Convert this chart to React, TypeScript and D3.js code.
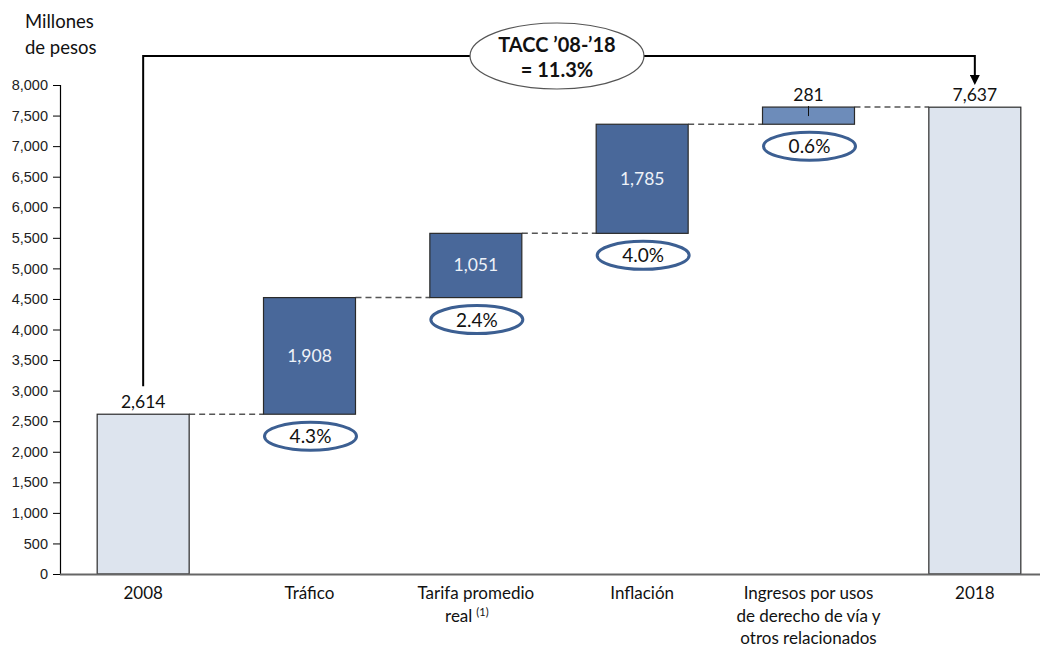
import { useEffect, useRef } from "react";
import * as d3 from "d3";

const W = 1044;
const H = 648;

const categories = ["2008", "Tráfico", "Tarifa promedio real", "Inflación", "Ingresos por usos de derecho de vía y otros relacionados", "2018"];
const labelLines = [["2008"], ["Tráfico"], ["Tarifa promedio", "real"], ["Inflación"], ["Ingresos por usos", "de derecho de vía y", "otros relacionados"], ["2018"]];
const kinds = ["total", "delta", "delta", "delta", "delta", "total"];
const values = [2614, 1908, 1051, 1785, 281, 7637];
const growth = ["", "4.3%", "2.4%", "4.0%", "0.6%", ""];
const yTicks = [0, 500, 1000, 1500, 2000, 2500, 3000, 3500, 4000, 4500, 5000, 5500, 6000, 6500, 7000, 7500, 8000];
const tacc = ["TACC ’08-’18", "= 11.3%"];

const FONT = "Lato, 'Open Sans', sans-serif";

export default function App() {
  const ref = useRef<SVGSVGElement>(null);

  useEffect(() => {
    if (!ref.current) return;
    const root = d3.select(ref.current);
    root.selectAll("*").remove();

    const x = d3.scaleBand<string>().domain(categories).range([60, 1058]).paddingInner(0.447).paddingOuter(0.2235);
    const y = d3.scaleLinear().domain([0, 8000]).range([574, 85]);

    // waterfall bounds
    let running = 0;
    const bars = categories.map((c, i) => {
      let lo: number, hi: number;
      if (kinds[i] === "total") {
        lo = 0;
        hi = values[i];
        running = values[i];
      } else {
        lo = running;
        hi = running + values[i];
        running = hi;
      }
      return { c, i, lo, hi };
    });

    const defs = root.append("defs");
    defs
      .append("marker")
      .attr("id", "arr")
      .attr("viewBox", "0 0 10 10")
      .attr("refX", 5)
      .attr("refY", 5)
      .attr("markerWidth", 5)
      .attr("markerHeight", 5)
      .attr("orient", "auto")
      .append("path")
      .attr("d", "M0,0 L10,5 L0,10 z")
      .attr("fill", "#000");

    // y axis
    const yAxis = root
      .append("g")
      .attr("transform", "translate(60,0)")
      .call(d3.axisLeft(y).tickValues(yTicks).tickSize(7).tickPadding(5).tickFormat(d3.format(",")));
    yAxis.select(".domain").attr("stroke", "#000").attr("stroke-width", 1.2);
    yAxis.selectAll("line").attr("stroke", "#000");
    yAxis
      .selectAll("text")
      .attr("font-family", "'Liberation Sans', Arial, sans-serif")
      .attr("font-size", 14.5)
      .attr("fill", "#222");

    // connectors
    bars.slice(0, -1).forEach((b, k) => {
      const next = bars[k + 1];
      root
        .append("line")
        .attr("x1", x(b.c)! + x.bandwidth())
        .attr("x2", x(next.c)!)
        .attr("y1", y(b.hi))
        .attr("y2", y(b.hi))
        .attr("stroke", "#555")
        .attr("stroke-width", 1.5)
        .attr("stroke-dasharray", "6,4");
    });

    // bars
    root
      .append("g")
      .selectAll("rect")
      .data(bars)
      .join("rect")
      .attr("x", (d) => x(d.c)!)
      .attr("width", x.bandwidth())
      .attr("y", (d) => y(d.hi))
      .attr("height", (d) => y(d.lo) - y(d.hi))
      .attr("fill", (d) => (kinds[d.i] === "total" ? "#dde4ee" : d.i === 4 ? "#6d8cba" : "#49689a"))
      .attr("stroke", "#2a2a2a")
      .attr("stroke-width", 1.2);

    // x axis line
    root.append("line").attr("x1", 60).attr("x2", 1040).attr("y1", 574.5).attr("y2", 574.5).attr("stroke", "#666").attr("stroke-width", 2);

    // value labels
    bars.forEach((b) => {
      const cx = x(b.c)! + x.bandwidth() / 2;
      if (kinds[b.i] === "total" || b.i === 4) {
        root
          .append("text")
          .attr("x", cx)
          .attr("y", y(b.hi) - 6)
          .attr("text-anchor", "middle")
          .attr("font-family", FONT)
          .attr("font-size", 17.5)
          .attr("fill", "#111")
          .text(d3.format(",")(values[b.i]));
      } else {
        root
          .append("text")
          .attr("x", cx)
          .attr("y", (y(b.lo) + y(b.hi)) / 2 + 6)
          .attr("text-anchor", "middle")
          .attr("font-family", FONT)
          .attr("font-size", 17.5)
          .attr("fill", "#eef2f8")
          .text(d3.format(",")(values[b.i]));
      }
      if (b.i === 4) {
        root
          .append("line")
          .attr("x1", cx)
          .attr("x2", cx)
          .attr("y1", y(b.hi) - 1)
          .attr("y2", y(b.hi) + 9)
          .attr("stroke", "#111")
          .attr("stroke-width", 1);
      }
      if (growth[b.i]) {
        const ey = y(b.lo) + 22;
        root
          .append("ellipse")
          .attr("cx", cx + 1)
          .attr("cy", ey)
          .attr("rx", 46)
          .attr("ry", 14)
          .attr("fill", "#fff")
          .attr("stroke", "#3c5f92")
          .attr("stroke-width", 3);
        root
          .append("text")
          .attr("x", cx + 1)
          .attr("y", ey + 7)
          .attr("text-anchor", "middle")
          .attr("font-family", FONT)
          .attr("font-size", 19)
          .attr("fill", "#111")
          .text(growth[b.i]);
      }
    });

    // category labels
    labelLines.forEach((lines, i) => {
      const cx = x(categories[i])! + x.bandwidth() / 2;
      const t = root
        .append("text")
        .attr("text-anchor", "middle")
        .attr("font-family", FONT)
        .attr("font-size", 17)
        .attr("fill", "#111");
      lines.forEach((ln, j) => {
        const ts = t
          .append("tspan")
          .attr("x", cx)
          .attr("y", 599 + j * 22.5)
          .text(ln);
        if (i === 2 && j === 1) {
          ts.attr("x", cx - 9);
          t.append("tspan").attr("dx", 4).attr("dy", -6).attr("font-size", 11).text("(1)");
        }
      });
    });

    // y title
    root
      .append("text")
      .attr("font-family", FONT)
      .attr("font-size", 18.5)
      .attr("fill", "#111")
      .selectAll("tspan")
      .data(["Millones", "de pesos"])
      .join("tspan")
      .attr("x", 25)
      .attr("y", (_d, j) => 28 + j * 26)
      .text((d) => d);

    // TACC bracket
    const x0 = x(categories[0])! + x.bandwidth() / 2;
    const x1 = x(categories[5])! + x.bandwidth() / 2;
    const topY = 56;
    root
      .append("path")
      .attr("d", `M${x0},${y(values[0]) - 28} V${topY} H${x1} V${80}`)
      .attr("fill", "none")
      .attr("stroke", "#000")
      .attr("stroke-width", 2)
      .attr("marker-end", "url(#arr)");

    const ex = 557;
    root
      .append("ellipse")
      .attr("cx", ex)
      .attr("cy", topY)
      .attr("rx", 87)
      .attr("ry", 33)
      .attr("fill", "#fff")
      .attr("stroke", "#555")
      .attr("stroke-width", 1.2);
    root
      .append("text")
      .attr("text-anchor", "middle")
      .attr("font-family", FONT)
      .attr("font-size", 20)
      .attr("font-weight", "bold")
      .attr("fill", "#111")
      .selectAll("tspan")
      .data(tacc)
      .join("tspan")
      .attr("x", ex)
      .attr("y", (_d, j) => topY - 4 + j * 25)
      .text((d) => d);
  }, []);

  return <svg ref={ref} width={W} height={H} style={{ display: "block", position: "absolute", left: 0, top: 0, background: "#fff" }} />;
}
